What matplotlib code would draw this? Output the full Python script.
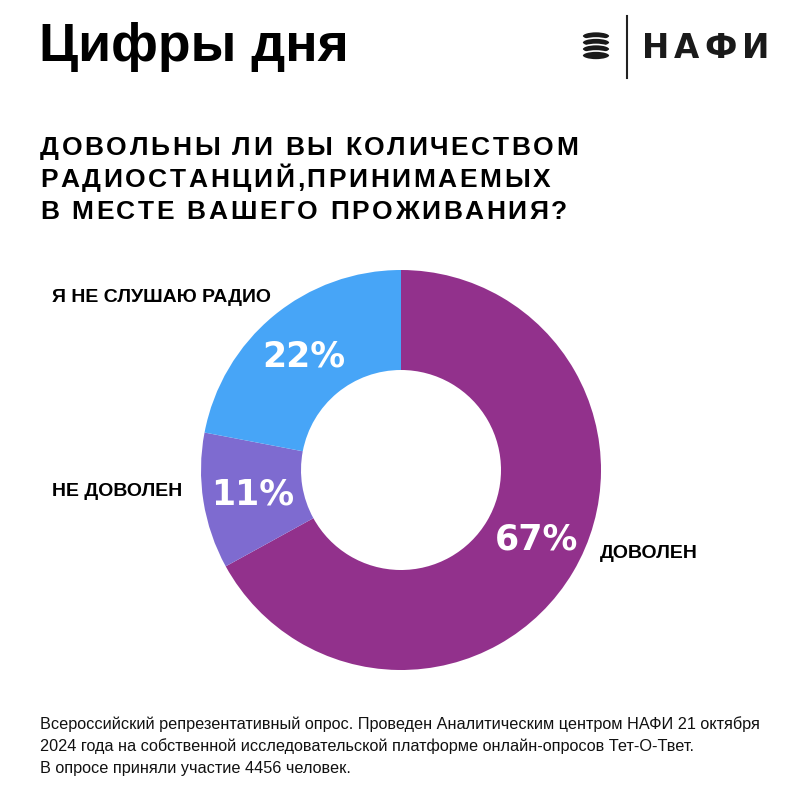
import matplotlib
matplotlib.use("Agg")
import matplotlib.pyplot as plt
import numpy as np
from matplotlib import font_manager as fm
from matplotlib.patches import Ellipse

categories = ["ДОВОЛЕН", "НЕ ДОВОЛЕН", "Я НЕ СЛУШАЮ РАДИО"]
values = [67, 11, 22]
pct_labels = ["67%", "11%", "22%"]
colors = ["#92318C", "#7E6BD0", "#47A5F7"]

title = "Цифры дня"
question = ["ДОВОЛЬНЫ ЛИ ВЫ КОЛИЧЕСТВОМ", "РАДИОСТАНЦИЙ,ПРИНИМАЕМЫХ", "В МЕСТЕ ВАШЕГО ПРОЖИВАНИЯ?"]
footer = ["Всероссийский репрезентативный опрос. Проведен Аналитическим центром НАФИ 21 октября",
          "2024 года на собственной исследовательской платформе онлайн-опросов Тет-О-Твет.",
          "В опросе приняли участие 4456 человек."]

names = {f.name for f in fm.fontManager.ttflist}
narrow = "Liberation Sans Narrow" if "Liberation Sans Narrow" in names else "Liberation Sans"

W, H = 800, 800
fig = plt.figure(figsize=(8, 8), dpi=100)
fig.patch.set_facecolor("white")

def px(x, y):
    return x / W, 1 - y / H

fig.canvas.draw()
renderer = fig.canvas.get_renderer()

def spaced_text(x, y, s, spacing, **kw):
    cx = x
    for ch in s:
        t = fig.text(*px(cx, y), ch, va="center", ha="left", **kw)
        bb = t.get_window_extent(renderer=renderer)
        cx += bb.width + spacing
    return cx

# Title
fig.text(*px(39, 47), title, fontsize=38.5, fontweight="bold", family="Liberation Sans",
         va="center", ha="left", color="black")

# Logo
for i in range(4):
    yc = 36 + i * 6.5
    fig.patches.append(Ellipse(px(596, yc), 28 / W, 9 / H, transform=fig.transFigure,
                               facecolor="#1a1a1a", edgecolor="white", linewidth=1.2, zorder=3 + i))
fig.add_artist(plt.Line2D([627 / W, 627 / W], [1 - 16 / H, 1 - 78 / H], color="#222222", lw=1.5))
spaced_text(642, 48, "НАФИ", 5, fontsize=23.5, fontweight="heavy", family="DejaVu Sans", color="#1a1a1a")

# Question
for i, line in enumerate(question):
    spaced_text(40, 148 + i * 32, line, 2.6, fontsize=19, fontweight="bold",
                family="Liberation Sans", color="black")

# Donut
cx, cy, R = 401, 470, 200
ax = fig.add_axes([(cx - R) / W, 1 - (cy + R) / H, 2 * R / W, 2 * R / H])
wedges, _ = ax.pie(values, colors=colors, startangle=90, counterclock=False,
                   radius=1.0, wedgeprops=dict(width=0.5, edgecolor="none"))
ax.set_xlim(-1, 1)
ax.set_ylim(-1, 1)
ax.set_aspect("equal")
ax.axis("off")

offsets = [(0.03, 0.035), (0.0, -0.005), (-0.01, -0.01)]
for w, lab, off in zip(wedges, pct_labels, offsets):
    ang = np.deg2rad((w.theta1 + w.theta2) / 2)
    r = 0.75
    ax.text(r * np.cos(ang) + off[0], r * np.sin(ang) + off[1], lab, color="white",
            fontsize=25, fontweight="bold", family="DejaVu Sans", ha="center", va="center")

# Category labels
lab_kw = dict(fontsize=14, fontweight="bold", family="Liberation Sans", ha="left", va="center")
fig.text(*px(52, 297), categories[2], **lab_kw)
fig.text(*px(52, 492), categories[1], **lab_kw)
fig.text(*px(600, 554), categories[0], **lab_kw)

# Footer
for i, line in enumerate(footer):
    fig.text(*px(40, 724 + i * 22), line, fontsize=11.7, family=narrow, ha="left", va="center",
             color="#111111")

fig.savefig("out.png", dpi=100, facecolor="white")
